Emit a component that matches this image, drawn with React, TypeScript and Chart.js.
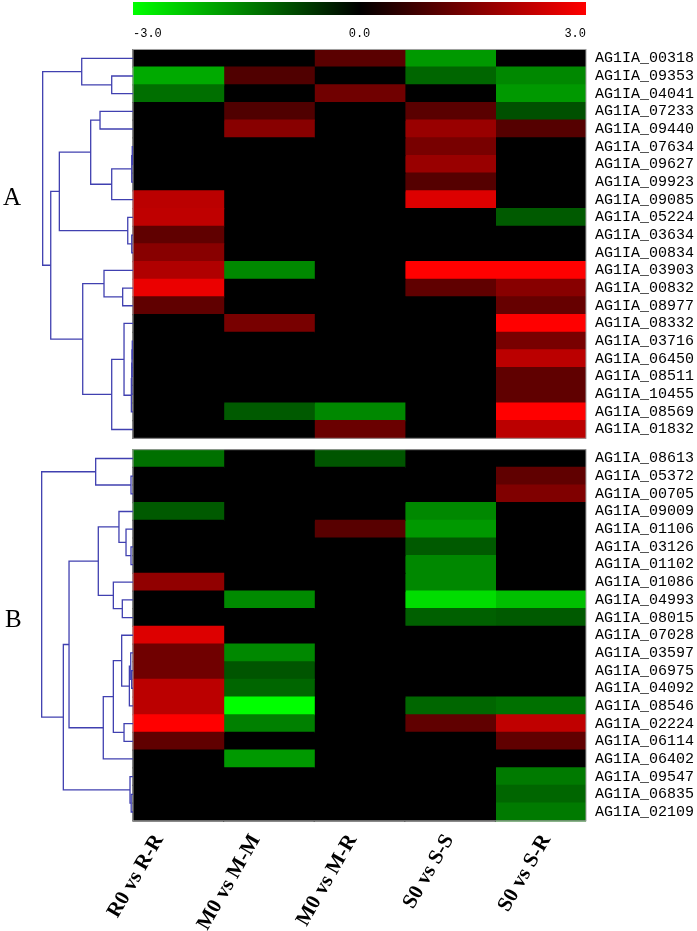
import { useEffect, useRef } from 'react';
import { Chart, registerables } from 'chart.js';

Chart.register(...registerables);

// ---- categories (conditions) ----
const conditions = ['R0 vs R-R', 'M0 vs M-M', 'M0 vs M-R', 'S0 vs S-S', 'S0 vs S-R'];

// ---- gene labels ----
const genesA = [
  'AG1IA_00318', 'AG1IA_09353', 'AG1IA_04041', 'AG1IA_07233', 'AG1IA_09440', 'AG1IA_07634',
  'AG1IA_09627', 'AG1IA_09923', 'AG1IA_09085', 'AG1IA_05224', 'AG1IA_03634', 'AG1IA_00834',
  'AG1IA_03903', 'AG1IA_00832', 'AG1IA_08977', 'AG1IA_08332', 'AG1IA_03716', 'AG1IA_06450',
  'AG1IA_08511', 'AG1IA_10455', 'AG1IA_08569', 'AG1IA_01832',
];
const genesB = [
  'AG1IA_08613', 'AG1IA_05372', 'AG1IA_00705', 'AG1IA_09009', 'AG1IA_01106', 'AG1IA_03126',
  'AG1IA_01102', 'AG1IA_01086', 'AG1IA_04993', 'AG1IA_08015', 'AG1IA_07028', 'AG1IA_03597',
  'AG1IA_06975', 'AG1IA_04092', 'AG1IA_08546', 'AG1IA_02224', 'AG1IA_06114', 'AG1IA_06402',
  'AG1IA_09547', 'AG1IA_06835', 'AG1IA_02109',
];

// ---- series values (log2 fold change), panel A rows then panel B rows ----
const r0RR = [
  0, -2.0, -1.3, 0, 0, 0, 0, 0, 2.2, 2.25, 1.13, 1.6, 2.07, 2.76, 1.13, 0, 0, 0, 0, 0, 0, 0,
  -1.32, 0, 0, -1.06, 0, 0, 0, 1.7, 0, 0, 2.6, 1.32, 1.32, 2.2, 2.2, 3.0, 1.13, 0, 0, 0, 0,
];
const m0MM = [
  0, 0.94, 0, 0.94, 1.6, 0, 0, 0, 0, 0, 0, 0, -1.6, 0, 0, 1.41, 0, 0, 0, 0, -1.06, 0,
  0, 0, 0, 0, 0, 0, 0, 0, -1.62, 0, 0, -1.6, -1.0, -1.2, -3.0, -1.5, 0, -1.8, 0, 0, 0,
];
const m0MR = [
  1.06, 0, 1.32, 0, 0, 0, 0, 0, 0, 0, 0, 0, 0, 0, 0, 0, 0, 0, 0, 0, -1.6, 1.25,
  -1.0, 0, 0, 0, 1.04, 0, 0, 0, 0, 0, 0, 0, 0, 0, 0, 0, 0, 0, 0, 0, 0,
];
const s0SS = [
  -1.8, -1.2, 0, 1.06, 1.8, 1.41, 1.8, 1.0, 2.6, 0, 0, 0, 3.0, 1.13, 0, 0, 0, 0, 0, 0, 0, 0,
  0, 0, 0, -1.6, -1.8, -1.06, -1.6, -1.6, -2.6, -1.13, 0, 0, 0, 0, -1.2, 1.13, 0, 0, 0, 0, 0,
];
const s0SR = [
  0, -1.6, -1.8, -0.94, 1.0, 0, 0, 0, 0, -1.06, 0, 0, 3.0, 1.6, 1.2, 3.0, 1.41, 2.2, 1.13, 1.13, 3.0, 2.2,
  0, 1.13, 1.5, 0, 0, 0, 0, 0, -2.26, -1.06, 0, 0, 0, 0, -1.32, 2.26, 1.13, 0, -1.44, -1.2, -1.44,
];
const series = [r0RR, m0MM, m0MR, s0SS, s0SR];

// ---- colour key ticks ----
const colorTicks = [-3, 0, 3];

// ---- row dendrograms: [height, left, right], leaves are row indices within the panel ----
const treeA = [0.997,
  [0.566, 0, [0.235, 1, 2]],
  [0.908,
    [0.813,
      [0.467, [0.364, 3, 4], [0.235, [0.014, [0.008, 5, 6], 7], 8]],
      [0.058, 9, [0.014, 10, 11]]],
    [0.555,
      [0.32, 12, [0.114, 13, 14]],
      [0.235, [0.099, 15, [0.018, [0.014, [0.011, [0.008, 16, 17], 18], 19], 20]], 21]]]];
const treeB = [1.008,
  [0.412, 0, [0.022, 1, 2]],
  [0.769,
    [0.706,
      [0.383,
        [0.155, 3, [0.077, 4, [0.022, 5, 6]]],
        [0.217, 7, [0.118, 8, 9]]],
      [0.328,
        [0.217,
          [0.125, 10, [0.04, [0.025, 11, [0.015, 12, 13]], 14]],
          [0.099, 15, 16]],
        17]],
    [0.033, 18, [0.02, 19, 20]]]];

const PANEL_GAP = 0.64;
const LABEL_SPREAD = 1.068;
const allGenes = [...genesA, ...genesB];
const rowPos = (k: number) => (k < genesA.length ? k + 0.5 : k + PANEL_GAP + 0.5);

function cellColor(v: number) {
  const c = Math.round(Math.min(1, Math.abs(v) / 3) * 255);
  return v >= 0 ? `rgb(${c},0,0)` : `rgb(0,${c},0)`;
}

const decorPlugin = {
  id: 'decor',
  afterDraw(chart: any) {
    const ctx = chart.ctx;
    const xs = chart.scales.x;
    const ys = chart.scales.y;
    const x0 = xs.getPixelForValue(0);
    const x1 = xs.getPixelForValue(conditions.length);

    // panel borders
    ctx.save();
    ctx.strokeStyle = '#a0a0a0';
    ctx.lineWidth = 1;
    const panels = [[0, genesA.length], [genesA.length, allGenes.length]];
    for (const [a, b] of panels) {
      const top = ys.getPixelForValue(rowPos(a) - 0.5);
      const bot = ys.getPixelForValue(rowPos(b - 1) + 0.5);
      ctx.strokeRect(x0, top, x1 - x0, bot - top);
    }
    ctx.restore();

    // dendrograms
    ctx.save();
    ctx.strokeStyle = 'rgb(64,64,176)';
    ctx.lineWidth = 1.3;
    const drawTree = (node: any, offset: number): { y: number; h: number } => {
      if (typeof node === 'number') return { y: ys.getPixelForValue(rowPos(node + offset)), h: 0 };
      const [h, l, r] = node;
      const a = drawTree(l, offset);
      const b = drawTree(r, offset);
      const xp = xs.getPixelForValue(-h);
      ctx.beginPath();
      ctx.moveTo(xs.getPixelForValue(-a.h), a.y);
      ctx.lineTo(xp, a.y);
      ctx.lineTo(xp, b.y);
      ctx.lineTo(xs.getPixelForValue(-b.h), b.y);
      ctx.stroke();
      return { y: (a.y + b.y) / 2, h };
    };
    drawTree(treeA, 0);
    drawTree(treeB, genesA.length);
    ctx.restore();

    // colour key
    ctx.save();
    const grad = ctx.createLinearGradient(x0, 0, x1, 0);
    colorTicks.forEach((t, i) => grad.addColorStop(i / (colorTicks.length - 1), cellColor(t)));
    ctx.fillStyle = grad;
    ctx.fillRect(x0, 2, x1 - x0, 13);
    ctx.fillStyle = '#000';
    ctx.font = '12px "Liberation Mono", monospace';
    ctx.textBaseline = 'alphabetic';
    colorTicks.forEach((t, i) => {
      ctx.textAlign = i === 0 ? 'left' : i === colorTicks.length - 1 ? 'right' : 'center';
      const px = x0 + (x1 - x0) * (i / (colorTicks.length - 1));
      ctx.fillText(t.toFixed(1), px, 37);
    });
    ctx.restore();

    // panel letters
    ctx.save();
    ctx.fillStyle = '#000';
    ctx.font = '25px "Liberation Serif", serif';
    ctx.textAlign = 'left';
    ctx.fillText('A', 3, 205);
    ctx.fillText('B', 5, 627);
    ctx.restore();
  },
};

export default function App() {
  const ref = useRef<HTMLCanvasElement>(null);
  useEffect(() => {
    if (!ref.current) return;
    const datasets = series.map((vals, c) => ({
      label: conditions[c],
      data: vals.map((_, k) => ({ x: [c, c + 1], y: rowPos(k) })),
      backgroundColor: vals.map(cellColor),
      borderWidth: 0,
      inflateAmount: 0.6,
      grouped: false,
      barPercentage: 1,
      categoryPercentage: 1,
    }));
    const mid = (conditions.length - 1) / 2;
    const chart = new Chart(ref.current, {
      type: 'bar',
      data: { datasets: datasets as any },
      options: {
        indexAxis: 'y',
        animation: false,
        responsive: false,
        devicePixelRatio: 1,
        layout: { padding: { left: 33.34, top: 40.3, right: 0, bottom: 0 } },
        plugins: { legend: { display: false }, tooltip: { enabled: false } },
        scales: {
          x: {
            type: 'linear',
            position: 'bottom',
            min: -1.1,
            max: conditions.length,
            grid: { display: false, drawTicks: false },
            border: { display: false },
            afterBuildTicks: (s: any) => {
              s.ticks = conditions.map((_, i) => ({ value: mid + 0.5 + (i - mid) * LABEL_SPREAD }));
            },
            afterFit: (s: any) => { s.height = 101; },
            ticks: {
              autoSkip: false,
              minRotation: 60,
              maxRotation: 60,
              padding: 0,
              labelOffset: -7,
              color: '#000',
              font: { family: '"Liberation Serif", serif', size: 21, weight: 'bold' },
              callback: (_v: any, i: number) => conditions[i],
            },
          },
          y: {
            type: 'linear',
            position: 'right',
            reverse: true,
            min: 0,
            max: allGenes.length + PANEL_GAP,
            grid: { display: false, drawTicks: false },
            border: { display: false },
            afterBuildTicks: (s: any) => { s.ticks = allGenes.map((_, k) => ({ value: rowPos(k) })); },
            afterFit: (s: any) => { s.width = 111; },
            ticks: {
              autoSkip: false,
              padding: 9,
              color: '#000',
              font: { family: '"Liberation Mono", monospace', size: 15 },
              callback: (_v: any, i: number) => allGenes[i],
            },
          },
        },
      },
      plugins: [decorPlugin],
    } as any);
    return () => chart.destroy();
  }, []);
  return (
    <div style={{ position: 'absolute', left: 0, top: 0, width: 697, height: 931, background: '#fff' }}>
      <canvas ref={ref} width={697} height={931} style={{ width: 697, height: 931, display: 'block' }} />
    </div>
  );
}
